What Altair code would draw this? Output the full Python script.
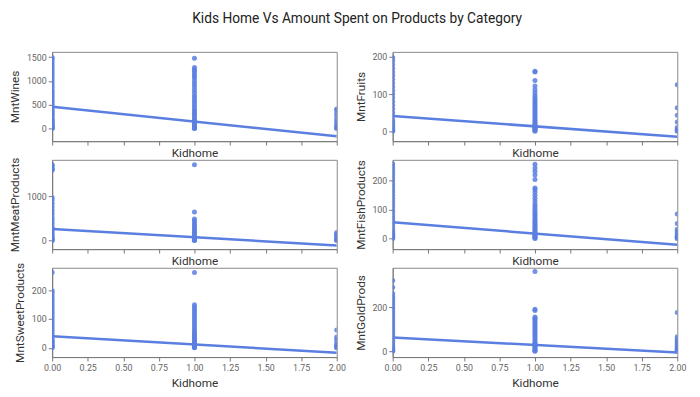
import altair as alt
import pandas as pd

TITLE = "Kids Home Vs Amount Spent on Products by Category"
x_ticks = [0, 0.25, 0.5, 0.75, 1.0, 1.25, 1.5, 1.75, 2.0]

# ---- per-category values (Kidhome = 0, 1, 2) ----
wines_k0 = [0, 5, 20, 40, 60, 80, 110, 140, 170, 200, 240, 280, 320, 360, 400, 450, 500, 550, 600, 650, 700, 750, 800, 860, 920, 980, 1040, 1100, 1160, 1220, 1280, 1340, 1400, 1460, 1493]
wines_k1 = [0, 5, 15, 30, 50, 70, 90, 110, 140, 170, 200, 240, 280, 320, 360, 400, 450, 500, 550, 600, 650, 700, 760, 820, 880, 940, 1000, 1060, 1100, 1150, 1200, 1240, 1280, 1478]
wines_k2 = [0, 10, 30, 60, 100, 150, 200, 260, 320, 380, 410]
wines_fit = [454, -165]

fruits_k0 = [0, 2, 5, 10, 15, 20, 25, 30, 40, 50, 60, 70, 80, 90, 100, 110, 120, 130, 140, 150, 160, 170, 180, 190, 199]
fruits_k1 = [0, 2, 4, 6, 8, 10, 12, 15, 18, 22, 26, 30, 35, 40, 45, 50, 55, 60, 65, 70, 75, 80, 85, 90, 96, 104, 112, 122, 137, 160, 162]
fruits_k2 = [0, 2, 5, 10, 25, 43, 63, 125]
fruits_fit = [41, -15]

meat_k0 = [0, 10, 30, 60, 100, 150, 200, 250, 300, 380, 450, 520, 600, 680, 760, 840, 920, 980, 1600, 1622, 1650, 1700, 1725]
meat_k1 = [0, 5, 15, 30, 50, 80, 110, 150, 190, 230, 270, 310, 350, 400, 450, 490, 650, 1725]
meat_k2 = [0, 10, 30, 60, 90, 120, 150, 180]
meat_fit = [262, -113]

fish_k0 = [0, 3, 6, 10, 15, 20, 25, 30, 40, 50, 60, 70, 80, 90, 100, 110, 120, 130, 140, 150, 160, 170, 180, 190, 200, 210, 220, 230, 240, 250, 259]
fish_k1 = [0, 2, 4, 7, 10, 13, 16, 20, 25, 30, 35, 40, 45, 50, 55, 60, 66, 72, 78, 84, 90, 97, 104, 112, 120, 130, 140, 150, 160, 170, 175, 205, 220, 233, 245, 258]
fish_k2 = [0, 2, 4, 8, 12, 18, 25, 32, 52, 85]
fish_fit = [56, -22]

sweet_k0 = [0, 3, 6, 10, 15, 20, 25, 30, 40, 50, 60, 70, 80, 90, 100, 110, 120, 130, 140, 150, 160, 170, 180, 190, 198, 262]
sweet_k1 = [0, 2, 4, 7, 10, 13, 16, 20, 25, 30, 35, 40, 45, 50, 56, 62, 70, 78, 86, 94, 102, 110, 118, 126, 134, 142, 150, 262]
sweet_k2 = [0, 2, 4, 8, 12, 20, 30, 38, 62]
sweet_fit = [40, -17]

gold_k0 = [0, 3, 6, 10, 15, 20, 30, 40, 50, 60, 70, 80, 90, 100, 110, 120, 130, 140, 150, 160, 170, 180, 190, 200, 210, 220, 230, 240, 250, 262, 290, 321]
gold_k1 = [0, 2, 5, 10, 15, 20, 25, 30, 35, 40, 48, 56, 64, 72, 80, 88, 96, 104, 112, 120, 128, 136, 144, 150, 155, 185, 190, 362]
gold_k2 = [0, 3, 6, 10, 15, 20, 25, 30, 38, 46, 55, 65, 176]
gold_fit = [62, -6]

BLUE = "#5a7fe0"
FONT = "Roboto"


def panel(name, k0, k1, k2, fit, domain, yticks, show_labels):
    pts = pd.DataFrame({
        "Kidhome": [0] * len(k0) + [1] * len(k1) + [2] * len(k2),
        name: k0 + k1 + k2,
    })
    fit_df = pd.DataFrame({"Kidhome": [0, 2], name: fit})
    x = alt.X(
        "Kidhome:Q",
        scale=alt.Scale(domain=[0, 2], nice=False, zero=False),
        axis=alt.Axis(values=x_ticks, format=".2f", labels=show_labels,
                      title="Kidhome", labelFlush=False, labelOverlap=False,
                      labelPadding=3, titlePadding=5 if show_labels else 2,
                      grid=False),
    )
    y = alt.Y(
        f"{name}:Q",
        scale=alt.Scale(domain=domain, nice=False, zero=False),
        axis=alt.Axis(values=yticks, format="d", title=name, grid=False, titlePadding=5),
    )
    pts_layer = alt.Chart(pts).mark_circle(size=26, color=BLUE, opacity=0.85, clip=True).encode(x=x, y=y)
    fit_layer = alt.Chart(fit_df).mark_line(color=BLUE, strokeWidth=2.6, clip=True).encode(x=x, y=y)
    return alt.layer(pts_layer, fit_layer).properties(width=290, height=91)


p1 = panel("MntWines", wines_k0, wines_k1, wines_k2, wines_fit, [-268, 1610], [0, 500, 1000, 1500], False)
p2 = panel("MntFruits", fruits_k0, fruits_k1, fruits_k2, fruits_fit, [-27, 214], [0, 100, 200], False)
p3 = panel("MntMeatProducts", meat_k0, meat_k1, meat_k2, meat_fit, [-196, 1835], [0, 1000], False)
p4 = panel("MntFishProducts", fish_k0, fish_k1, fish_k2, fish_fit, [-37, 273], [0, 100, 200], False)
p5 = panel("MntSweetProducts", sweet_k0, sweet_k1, sweet_k2, sweet_fit, [-32, 278], [0, 100, 200], True)
p6 = panel("MntGoldProds", gold_k0, gold_k1, gold_k2, gold_fit, [-27, 379], [0, 200], True)

chart = alt.concat(
    p1, p2, p3, p4, p5, p6, columns=2,
    spacing={"row": 19, "column": 57}, bounds="flush",
).properties(
    title=alt.TitleParams(TITLE, fontSize=14, font=FONT, color="#222222",
                          fontWeight="normal", anchor="middle", dx=10, offset=26),
    padding={"left": 0, "top": 0, "right": 5, "bottom": 5},
).resolve_scale(x="independent", y="independent").configure_view(
    stroke="#888888", strokeWidth=1
).configure_axis(
    labelFont=FONT, titleFont=FONT, labelFontSize=9, titleFontSize=12,
    labelColor="#666666", titleColor="#333333", titleFontWeight="normal",
    domainColor="#777777", tickColor="#777777", tickSize=4,
)

chart.save("out.html", embed_options={"renderer": "svg", "actions": False})
